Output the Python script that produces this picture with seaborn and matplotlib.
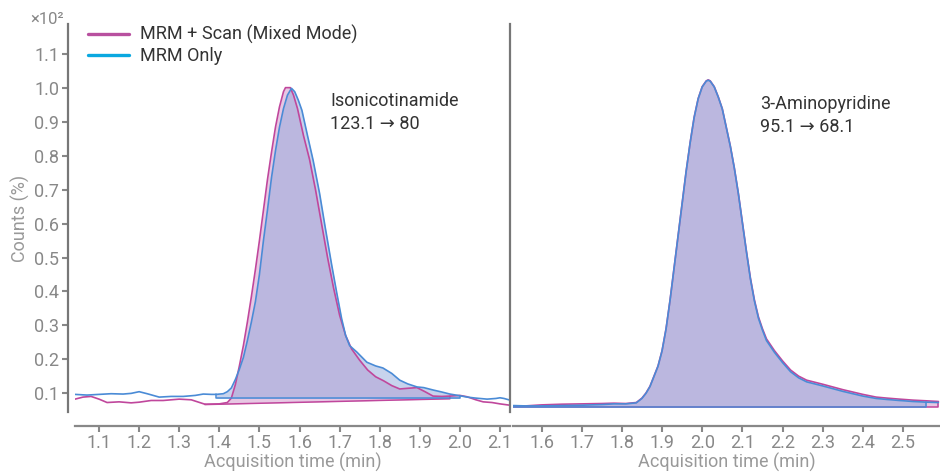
import numpy as np
import pandas as pd
import matplotlib
matplotlib.use("Agg")
import matplotlib.pyplot as plt
from matplotlib.lines import Line2D
import seaborn as sns

# --- Data ---
# Isonicotinamide, MRM + Scan (Mixed Mode)
iso_scan_t = [1.04, 1.06, 1.08, 1.10, 1.12, 1.15, 1.18, 1.20, 1.23, 1.26, 1.30, 1.33, 1.364,
              1.40, 1.42, 1.43, 1.44, 1.45, 1.46, 1.47, 1.48, 1.49, 1.50, 1.51, 1.52, 1.53,
              1.54, 1.55, 1.56, 1.565, 1.577, 1.585, 1.595, 1.61, 1.625, 1.64, 1.655, 1.67,
              1.685, 1.70, 1.715, 1.73, 1.75, 1.77, 1.79, 1.81, 1.83, 1.85,
              1.87, 1.893, 1.913, 1.933, 1.955, 1.975, 2.00, 2.018, 2.04, 2.058, 2.08, 2.10, 2.125]
iso_scan_v = [0.082, 0.088, 0.090, 0.082, 0.072, 0.074, 0.071, 0.073, 0.078, 0.078, 0.082, 0.080, 0.067,
              0.068, 0.072, 0.085, 0.125, 0.180, 0.240, 0.310, 0.385, 0.465, 0.550, 0.640, 0.730, 0.810,
              0.885, 0.945, 0.990, 1.002, 1.002, 0.980, 0.940, 0.860, 0.790, 0.700, 0.600, 0.500,
              0.410, 0.330, 0.270, 0.230, 0.197, 0.168, 0.148, 0.136, 0.122, 0.112,
              0.114, 0.116, 0.104, 0.091, 0.090, 0.091, 0.093, 0.089, 0.080, 0.074, 0.072, 0.068, 0.064]

# Isonicotinamide, MRM Only
iso_mrm_t = [1.04, 1.07, 1.10, 1.13, 1.16, 1.18, 1.20, 1.22, 1.25, 1.28, 1.31, 1.34, 1.36, 1.38,
             1.392, 1.41, 1.42, 1.43, 1.44, 1.45, 1.46, 1.47, 1.48, 1.49, 1.50, 1.51, 1.52, 1.53,
             1.54, 1.55, 1.56, 1.57, 1.58, 1.588, 1.597, 1.606, 1.62, 1.634, 1.65, 1.664, 1.68,
             1.693, 1.705, 1.715, 1.725, 1.743, 1.768, 1.79, 1.808, 1.83,
             1.85, 1.87, 1.893, 1.91, 1.933, 1.955, 1.975, 2.00, 2.018, 2.04, 2.068, 2.09, 2.10,
             2.11, 2.125]
iso_mrm_v = [0.096, 0.094, 0.096, 0.098, 0.097, 0.099, 0.104, 0.098, 0.088, 0.090, 0.090, 0.093, 0.097, 0.096,
             0.096, 0.098, 0.104, 0.115, 0.140, 0.170, 0.205, 0.255, 0.310, 0.370, 0.450, 0.550, 0.640, 0.735,
             0.815, 0.885, 0.940, 0.980, 1.000, 0.990, 0.965, 0.935, 0.860, 0.787, 0.690, 0.590, 0.480,
             0.395, 0.320, 0.270, 0.240, 0.221, 0.191, 0.180, 0.174, 0.158,
             0.138, 0.127, 0.118, 0.116, 0.109, 0.103, 0.097, 0.092, 0.088, 0.085, 0.082, 0.084, 0.086,
             0.084, 0.079]

# 3-Aminopyridine, both modes share the same time points
amp_t = [1.53, 1.56, 1.60, 1.65, 1.70, 1.75, 1.78, 1.81, 1.836, 1.85, 1.86, 1.87, 1.88, 1.89,
         1.90, 1.91, 1.92, 1.93, 1.94, 1.95, 1.96, 1.97, 1.98, 1.99, 2.00, 2.01, 2.015, 2.02,
         2.03, 2.04, 2.05, 2.06, 2.07, 2.08, 2.09, 2.10, 2.11, 2.12, 2.13, 2.14, 2.15, 2.16,
         2.18, 2.20, 2.22, 2.24, 2.26, 2.28, 2.30, 2.325, 2.35, 2.375, 2.40, 2.433, 2.46,
         2.491, 2.525, 2.558, 2.588]
amp_scan_v = [0.062, 0.062, 0.065, 0.067, 0.068, 0.069, 0.070, 0.069, 0.072, 0.085, 0.100, 0.120, 0.150, 0.180,
              0.225, 0.290, 0.375, 0.470, 0.565, 0.660, 0.755, 0.840, 0.915, 0.970, 1.005, 1.022, 1.025, 1.022,
              1.005, 0.975, 0.940, 0.885, 0.830, 0.765, 0.690, 0.605, 0.520, 0.440, 0.375, 0.325, 0.290, 0.260,
              0.225, 0.195, 0.168, 0.150, 0.138, 0.132, 0.126, 0.118, 0.110, 0.103, 0.096, 0.088, 0.085,
              0.082, 0.079, 0.077, 0.075]
amp_mrm_v = [0.063, 0.062, 0.062, 0.063, 0.064, 0.066, 0.068, 0.068, 0.071, 0.084, 0.099, 0.119, 0.149, 0.179,
             0.224, 0.289, 0.374, 0.469, 0.564, 0.659, 0.754, 0.839, 0.914, 0.969, 1.004, 1.021, 1.024, 1.021,
             1.004, 0.974, 0.939, 0.884, 0.829, 0.764, 0.689, 0.603, 0.518, 0.437, 0.372, 0.321, 0.286, 0.255,
             0.220, 0.190, 0.163, 0.145, 0.133, 0.127, 0.121, 0.113, 0.105, 0.098, 0.091, 0.084, 0.081,
             0.078, 0.075, 0.073, 0.072]

# integration windows: (start, end, baseline at start, baseline at end)
iso_scan_int = (1.364, 1.975, 0.066, 0.083)
iso_mrm_int = (1.392, 2.00, 0.084, 0.084)
amp_scan_int = (1.53, 2.588, 0.060, 0.060)
amp_mrm_int = (1.53, 2.558, 0.060, 0.060)

left_ticks = [1.1, 1.2, 1.3, 1.4, 1.5, 1.6, 1.7, 1.8, 1.9, 2.0, 2.1]
right_ticks = [1.6, 1.7, 1.8, 1.9, 2.0, 2.1, 2.2, 2.3, 2.4, 2.5]
y_ticks = [0.1, 0.2, 0.3, 0.4, 0.5, 0.6, 0.7, 0.8, 0.9, 1.0, 1.1]

# --- Style ---
scan_line = "#c0479c"
mrm_line = "#4a8bd6"
scan_fill = "#d191c9"
mrm_fill = "#91a9dd"
scan_legend = "#b8509f"
mrm_legend = "#0aa8e0"
grey = "#888888"
label_grey = "#999999"

sns.set_theme(style="white")
plt.rcParams["font.family"] = ["Roboto", "DejaVu Sans"]
plt.rcParams["font.size"] = 13

fig = plt.figure(figsize=(9.4, 4.72), dpi=100)
ax1 = fig.add_axes([75 / 940, 60 / 472, 435 / 940, 388 / 472])
ax2 = fig.add_axes([513 / 940, 60 / 472, 427 / 940, 388 / 472])


def draw_peak(ax, t, v, win, line_color, fill_color):
    df = pd.DataFrame({"t": t, "v": v})
    start, end, b0, b1 = win
    seg = df[(df["t"] >= start) & (df["t"] <= end)]
    base = b0 + (b1 - b0) * (seg["t"] - start) / (end - start)
    ax.fill_between(seg["t"], seg["v"], base, color=fill_color, alpha=0.5, lw=0)
    # integration outline: baseline plus the two vertical edges
    ax.plot([start, start, end, end], [seg["v"].iloc[0], b0, b1, seg["v"].iloc[-1]],
            color=line_color, lw=1.1)
    sns.lineplot(data=df, x="t", y="v", ax=ax, color=line_color, lw=1.2, sort=False)


draw_peak(ax1, iso_scan_t, iso_scan_v, iso_scan_int, scan_line, scan_fill)
draw_peak(ax1, iso_mrm_t, iso_mrm_v, iso_mrm_int, mrm_line, mrm_fill)
draw_peak(ax2, amp_t, amp_scan_v, amp_scan_int, scan_line, scan_fill)
draw_peak(ax2, amp_t, amp_mrm_v, amp_mrm_int, mrm_line, mrm_fill)

ylim = (0.044, 1.19)
ax1.set_xlim(1.04, 2.125)
ax2.set_xlim(1.529, 2.592)
for ax in (ax1, ax2):
    ax.set_ylim(*ylim)
    ax.set_xlabel("Acquisition time (min)", color=label_grey, fontsize=13, labelpad=1)
    ax.set_ylabel("")
    ax.spines["top"].set_visible(False)
    ax.spines["bottom"].set_position(("outward", 10))
    ax.spines["bottom"].set_color(grey)
    ax.spines["bottom"].set_linewidth(1.6)
    ax.tick_params(axis="x", bottom=True, length=4.5, width=1.5, color=grey,
                   labelcolor=grey, labelsize=13, pad=1)

ax1.set_xticks(left_ticks)
ax1.set_xticklabels([f"{x:.1f}" for x in left_ticks])
ax2.set_xticks(right_ticks)
ax2.set_xticklabels([f"{x:.1f}" for x in right_ticks])

ax1.set_yticks(y_ticks)
ax1.set_yticklabels([f"{y:.1f}" for y in y_ticks])
ax1.tick_params(axis="y", left=True, length=4.5, width=1.5, color=grey,
                labelcolor=grey, labelsize=13, pad=2)
ax1.spines["left"].set_position(("outward", 5))
for side in ("left", "right"):
    ax1.spines[side].set_color("#777777")
    ax1.spines[side].set_linewidth(1.6)
ax1.set_ylabel("Counts (%)", color=label_grey, fontsize=13, labelpad=3)

ax2.set_yticks([])
for side in ("left", "right"):
    ax2.spines[side].set_visible(False)

fig.text(30 / 940, 1 - 20 / 472, "×10²", color=grey, fontsize=12, va="center", ha="left")

ax1.text(1.676, 0.99, "Isonicotinamide\n123.1 → 80", color="#333333", fontsize=13,
         va="top", ha="left", linespacing=1.35)
ax2.text(2.143, 0.98, "3-Aminopyridine\n95.1 → 68.1", color="#333333", fontsize=13,
         va="top", ha="left", linespacing=1.35)

handles = [Line2D([], [], color=scan_legend, lw=2.4),
           Line2D([], [], color=mrm_legend, lw=2.4)]
ax1.legend(handles, ["MRM + Scan (Mixed Mode)", "MRM Only"], loc="upper left",
           bbox_to_anchor=(0.0, 1.03), frameon=False, fontsize=13, handlelength=2.3,
           handletextpad=0.6, labelspacing=0.15, labelcolor="#333333", borderaxespad=0.3)

fig.savefig("out.png", dpi=100)
